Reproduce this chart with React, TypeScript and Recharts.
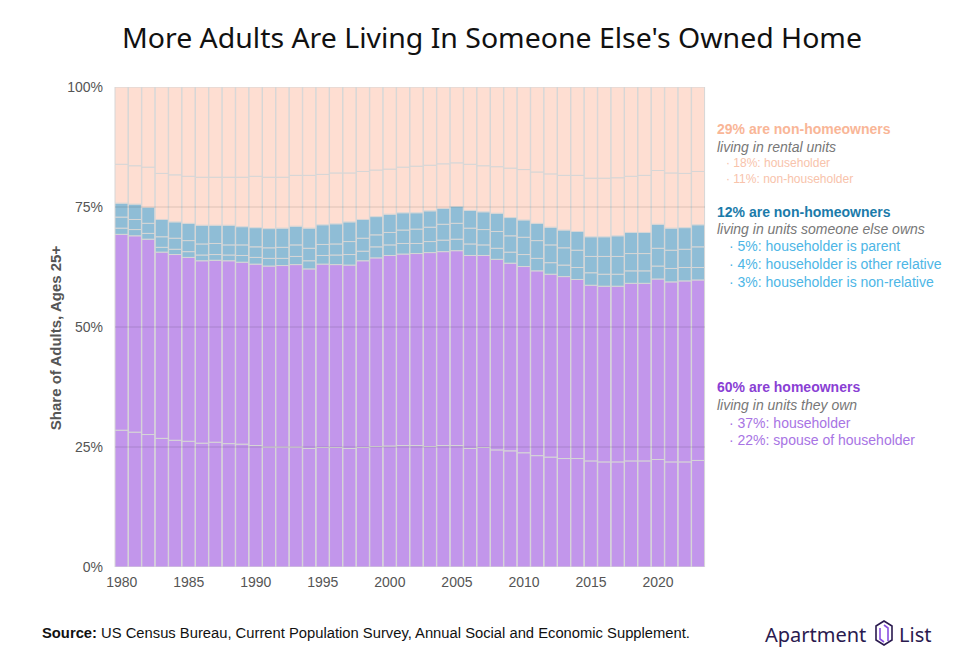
import React from "react";
import { BarChart, Bar, XAxis, YAxis, ReferenceLine } from "recharts";

const years = [1980,1981,1982,1983,1984,1985,1986,1987,1988,1989,1990,1991,1992,1993,1994,1995,1996,1997,1998,1999,2000,2001,2002,2003,2004,2005,2006,2007,2008,2009,2010,2011,2012,2013,2014,2015,2016,2017,2018,2019,2020,2021,2022,2023];

const spouse = [28.5,28.1,27.6,26.8,26.4,26.2,25.8,26.0,25.7,25.6,25.3,25.0,25.0,25.0,24.7,24.9,24.9,24.7,24.9,25.1,25.2,25.3,25.3,25.1,25.3,25.3,24.7,24.9,24.4,24.2,23.8,23.2,22.9,22.6,22.6,22.1,21.9,21.9,22.1,22.1,22.4,21.9,21.9,22.2];
const ownerHouseholder = [40.8,40.9,40.7,38.8,38.7,38.3,38.0,37.9,38.1,37.9,37.8,37.7,37.8,38.0,37.4,38.2,38.1,38.2,38.9,39.3,39.7,39.9,40.0,40.4,40.4,40.6,40.2,40.0,39.7,39.1,38.8,38.5,38.1,37.9,37.3,36.6,36.6,36.6,37.0,37.0,37.6,37.5,37.7,37.6];
const nonRelative = [1.3,1.3,1.2,1.0,1.1,1.2,1.2,1.2,1.2,1.4,1.4,1.6,1.5,1.7,1.7,1.8,2.0,2.2,2.0,2.3,2.2,2.2,2.1,2.3,2.4,2.4,2.4,2.2,2.3,2.3,2.5,2.6,2.4,2.4,2.5,2.6,2.5,2.5,2.6,2.6,2.7,2.8,2.8,2.6];
const otherRelative = [2.3,2.1,2.1,2.2,2.3,2.3,2.3,2.3,2.1,2.2,2.2,2.2,2.3,2.4,2.6,2.3,2.3,2.7,2.7,2.5,2.6,2.8,3.0,3.0,3.3,3.3,3.3,3.2,3.5,3.4,3.6,3.7,3.7,3.6,3.6,3.4,3.7,3.7,3.6,3.6,3.7,3.8,3.8,4.3];
const parent = [2.9,3.2,3.3,3.6,3.4,3.6,3.9,3.8,4.1,3.8,4.0,4.0,4.0,3.9,4.2,4.1,4.2,4.1,3.9,3.8,3.8,3.6,3.4,3.4,3.3,3.5,3.7,3.7,3.8,3.8,3.6,3.6,3.7,3.7,3.9,4.1,4.1,4.3,4.4,4.4,5.0,4.6,4.5,4.6];
const renterNonHouseholder = [8.1,8.0,8.4,9.6,9.8,9.8,10.0,10.0,10.0,10.3,10.7,10.7,10.6,10.6,11.0,10.5,10.6,10.2,10.0,9.7,9.4,9.5,9.7,9.5,9.3,9.1,9.6,9.6,9.7,10.3,10.5,10.7,11.1,11.4,11.7,12.2,12.2,12.1,11.7,11.9,11.2,11.5,11.3,11.1];
const renterHouseholder = [16.1,16.4,16.7,18.0,18.3,18.6,18.8,18.8,18.8,18.8,18.6,18.8,18.8,18.4,18.4,18.2,17.9,17.9,17.6,17.3,17.1,16.7,16.5,16.3,16.0,15.8,16.1,16.4,16.6,16.9,17.2,17.7,18.1,18.4,18.4,19.0,19.0,18.9,18.6,18.4,17.4,17.9,18.0,17.6];

const yTicks = [0, 25, 50, 75, 100];

const data = years.map((year, i) => ({
  year,
  spouse: spouse[i],
  ownerHouseholder: ownerHouseholder[i],
  nonRelative: nonRelative[i],
  otherRelative: otherRelative[i],
  parent: parent[i],
  renterNonHouseholder: renterNonHouseholder[i],
  renterHouseholder: renterHouseholder[i],
}));

const PURPLE = "#C296EB";
const BLUE = "#8FBDD6";
const PINK = "#FEDED2";
const EDGE = "#D6D6D6";
const SANS = "'Liberation Sans', Arial, Helvetica, sans-serif";

const series: [string, string][] = [
  ["spouse", PURPLE],
  ["ownerHouseholder", PURPLE],
  ["nonRelative", BLUE],
  ["otherRelative", BLUE],
  ["parent", BLUE],
  ["renterNonHouseholder", PINK],
  ["renterHouseholder", PINK],
];

export default function App() {
  return (
    <div style={{ position: "absolute", left: 0, top: 0, width: 980, height: 661, background: "#fff" }}>
      <BarChart
        width={980}
        height={661}
        data={data}
        margin={{ top: 87, right: 275, bottom: 64, left: 0 }}
        barCategoryGap={0}
        barGap={0}
      >
        <XAxis
          dataKey="year"
          interval={4}
          axisLine={false}
          tickLine={false}
          height={30}
          tickMargin={4}
          tick={{ fill: "#555", fontSize: 14, fontFamily: SANS }}
        />
        <YAxis
          type="number"
          domain={[0, 100]}
          allowDataOverflow
          ticks={yTicks}
          width={115}
          axisLine={false}
          tickLine={false}
          tickMargin={6}
          tickFormatter={(v: number) => `${v}%`}
          tick={{ fill: "#555", fontSize: 14, fontFamily: SANS }}
        />
        {series.map(([key, color]) => (
          <Bar
            key={key}
            dataKey={key}
            stackId="a"
            fill={color}
            stroke={EDGE}
            strokeWidth={1}
            isAnimationActive={false}
          />
        ))}
        {[25, 50, 75].map((v) => (
          <ReferenceLine key={v} y={v} stroke="#000" strokeOpacity={0.13} strokeWidth={1} />
        ))}
      </BarChart>
      <svg
        width={980}
        height={661}
        style={{ position: "absolute", left: 0, top: 0, pointerEvents: "none" }}
      >
        <text x={492} y={37} textAnchor="middle" dominantBaseline="central" fontFamily="'Noto Sans', sans-serif" fontSize={28} textLength={740} lengthAdjust="spacingAndGlyphs" fill="#111">
          More Adults Are Living In Someone Else's Owned Home
        </text>
        <text
          x={55}
          y={338}
          transform="rotate(-90 55 338)"
          textAnchor="middle"
          dominantBaseline="central"
          fontFamily={SANS}
          fontWeight="bold"
          fontSize={15}
          fill="#555"
        >
          Share of Adults, Ages 25+
        </text>

        <g fontFamily={SANS} dominantBaseline="central">
          <text x={717} y={129} fontSize={14} fontWeight="bold" fill="#F9B697">29% are non-homeowners</text>
          <text x={717} y={147} fontSize={14} fontStyle="italic" fill="#777">living in rental units</text>
          <text x={726} y={163} fontSize={12} fill="#F8C3AB">· 18%: householder</text>
          <text x={726} y={179} fontSize={12} fill="#F8C3AB">· 11%: non-householder</text>

          <text x={717} y={212} fontSize={14} fontWeight="bold" fill="#1B7BAA">12% are non-homeowners</text>
          <text x={717} y={229} fontSize={14} fontStyle="italic" fill="#777">living in units someone else owns</text>
          <text x={729} y={246} fontSize={14} fill="#4DB6E6">· 5%: householder is parent</text>
          <text x={729} y={264} fontSize={14} fill="#4DB6E6">· 4%: householder is other relative</text>
          <text x={729} y={282} fontSize={14} fill="#4DB6E6">· 3%: householder is non-relative</text>

          <text x={717} y={387} fontSize={14} fontWeight="bold" fill="#8A3FD4">60% are homeowners</text>
          <text x={717} y={405} fontSize={14} fontStyle="italic" fill="#777">living in units they own</text>
          <text x={729} y={423} fontSize={14} fill="#A874E4">· 37%: householder</text>
          <text x={729} y={440} fontSize={14} fill="#A874E4">· 22%: spouse of householder</text>
        </g>

        <text x={42} y={633} dominantBaseline="central" fontFamily="'Liberation Sans Narrow', 'Liberation Sans', Arial, sans-serif" fontSize={14} textLength={648} lengthAdjust="spacingAndGlyphs" fill="#111">
          <tspan fontWeight="bold">Source:</tspan> US Census Bureau, Current Population Survey, Annual Social and Economic Supplement.
        </text>

        <g>
          <text x={765} y={634} dominantBaseline="central" fontFamily="'Noto Sans', sans-serif" fontSize={20} fill="#2A1A4F">Apartment</text>
          <path d="M876 626 L884 621 L892 626 L892 640 L884 645 L876 640 Z" fill="none" stroke="#2A1A4F" strokeWidth={1.6} />
          <path d="M880 628 L880 639 L884 642" fill="none" stroke="#8A4FE0" strokeWidth={1.6} />
          <path d="M884 625 L888 628 L888 641" fill="none" stroke="#8A4FE0" strokeWidth={1.6} />
          <text x={899} y={634} dominantBaseline="central" fontFamily="'Noto Sans', sans-serif" fontSize={20} fill="#2A1A4F">List</text>
        </g>
      </svg>
    </div>
  );
}
